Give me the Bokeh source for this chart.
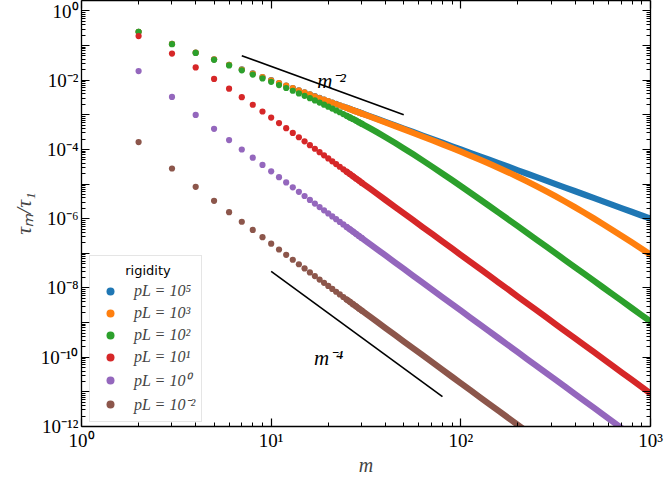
from bokeh.plotting import figure
from bokeh.models import (FixedTicker, CustomJSTickFormatter, LogAxis, Legend, LegendItem,
                          Label, Range1d)
from bokeh.embed import file_html
from bokeh.resources import INLINE

# ---------------- data ----------------
m_vals = [2, 3, 4, 5, 6, 7, 8, 9, 10, 11, 12, 13, 14, 15, 16, 17, 18, 19, 20, 21, 22, 23, 24, 25,
          26, 27, 28, 29, 30, 33, 36, 40, 45, 50, 56, 63, 71, 80, 90, 100, 112, 126, 141, 158, 178,
          200, 224, 251, 282, 316, 355, 398, 447, 501, 562, 631, 708, 794, 891, 1000]

tau_pl_1e5 = [0.25, 0.1111, 0.0625, 0.04, 0.02778, 0.02041, 0.01563, 0.01235, 0.01, 0.008264,
              0.006944, 0.005917, 0.005102, 0.004444, 0.003906, 0.00346, 0.003086, 0.00277, 0.0025,
              0.002268, 0.002066, 0.00189, 0.001736, 0.0016, 0.001479, 0.001372, 0.001276, 0.001189,
              0.001111, 9.18e-4, 7.72e-4, 6.25e-4, 4.94e-4, 4.0e-4, 3.19e-4, 2.52e-4, 1.98e-4,
              1.56e-4, 1.23e-4, 1.0e-4, 7.97e-5, 6.30e-5, 5.03e-5, 4.01e-5, 3.16e-5, 2.5e-5, 1.99e-5,
              1.59e-5, 1.26e-5, 1.0e-5, 7.93e-6, 6.31e-6, 5.0e-6, 3.98e-6, 3.17e-6, 2.51e-6, 1.99e-6,
              1.59e-6, 1.26e-6, 1.0e-6]

tau_pl_1e3 = [0.25, 0.1111, 0.06247, 0.03997, 0.02775, 0.02038, 0.0156, 0.01232, 0.009975, 0.00824,
              0.00692, 0.005894, 0.005079, 0.004421, 0.003884, 0.003438, 0.003064, 0.002748,
              0.002478, 0.002246, 0.002045, 0.00187, 0.001715, 0.001579, 0.001459, 0.001352,
              0.001255, 0.001169, 0.001091, 8.99e-4, 7.527e-4, 6.066e-4, 4.76e-4, 3.827e-4,
              3.021e-4, 2.358e-4, 1.828e-4, 1.413e-4, 1.092e-4, 8.638e-5, 6.68e-5, 5.083e-5,
              3.891e-5, 2.948e-5, 2.184e-5, 1.614e-5, 1.191e-5, 8.69e-6, 6.227e-6, 4.448e-6,
              3.121e-6, 2.181e-6, 1.5e-6, 1.03e-6, 6.993e-7, 4.7e-7, 3.144e-7, 2.095e-7, 1.387e-7,
              9.13e-8]

tau_pl_1e2 = [0.2487, 0.1099, 0.0613, 0.03882, 0.02662, 0.01928, 0.01452, 0.01127, 0.00895,
              0.007241, 0.005948, 0.004949, 0.004161, 0.003531, 0.00302, 0.002601, 0.002254,
              0.001964, 0.00172, 0.001513, 0.001336, 0.001185, 0.001054, 9.407e-4, 8.422e-4,
              7.561e-4, 6.806e-4, 6.142e-4, 5.556e-4, 4.166e-4, 3.179e-4, 2.271e-4, 1.541e-4,
              1.079e-4, 7.283e-5, 4.8e-5, 3.117e-5, 2.011e-5, 1.297e-5, 8.724e-6, 5.674e-6,
              3.616e-6, 2.345e-6, 1.51e-6, 9.505e-7, 6.035e-7, 3.876e-7, 2.483e-7, 1.572e-7,
              1.005e-7, 6.361e-8, 4.055e-8, 2.567e-8, 1.638e-8, 1.041e-8, 6.596e-9, 4.187e-9,
              2.663e-9, 1.69e-9, 1.072e-9]

tau_pl_1e1 = [0.1875, 0.05882, 0.02344, 0.01091, 0.005682, 0.003222, 0.001953, 0.001248, 8.333e-4,
              5.766e-4, 4.112e-4, 3.009e-4, 2.251e-4, 1.717e-4, 1.332e-4, 1.049e-4, 8.367e-5,
              6.756e-5, 5.515e-5, 4.545e-5, 3.779e-5, 3.168e-5, 2.676e-5, 2.275e-5, 1.946e-5,
              1.675e-5, 1.449e-5, 1.26e-5, 1.101e-5, 7.534e-6, 5.326e-6, 3.498e-6, 2.186e-6,
              1.435e-6, 9.128e-7, 5.702e-7, 3.536e-7, 2.195e-7, 1.37e-7, 8.993e-8, 5.716e-8,
              3.569e-8, 2.276e-8, 1.444e-8, 8.963e-9, 5.624e-9, 3.574e-9, 2.267e-9, 1.423e-9,
              9.025e-10, 5.666e-10, 3.587e-10, 2.254e-10, 1.429e-10, 9.022e-11, 5.677e-11,
              3.582e-11, 2.264e-11, 1.428e-11, 9.0e-12]

tau_pl_1e0 = [0.0183, 0.003285, 9.917e-4, 3.951e-4, 1.87e-4, 9.964e-5, 5.784e-5, 3.584e-5,
              2.337e-5, 1.588e-5, 1.117e-5, 8.08e-6, 5.99e-6, 4.532e-6, 3.494e-6, 2.736e-6,
              2.173e-6, 1.747e-6, 1.421e-6, 1.168e-6, 9.683e-7, 8.097e-7, 6.822e-7, 5.788e-7,
              4.945e-7, 4.25e-7, 3.672e-7, 3.187e-7, 2.782e-7, 1.897e-7, 1.338e-7, 8.762e-8,
              5.463e-8, 3.58e-8, 2.272e-8, 1.417e-8, 8.775e-9, 5.44e-9, 3.394e-9, 2.226e-9,
              1.413e-9, 8.818e-10, 5.621e-10, 3.564e-10, 2.212e-10, 1.387e-10, 8.811e-11,
              5.588e-11, 3.507e-11, 2.223e-11, 1.396e-11, 8.832e-12, 5.55e-12, 3.518e-12,
              2.221e-12, 1.397e-12, 8.814e-13, 5.57e-13, 3.513e-13, 2.214e-13]

tau_pl_1em2 = [1.634e-4, 2.818e-5, 8.343e-6, 3.287e-6, 1.544e-6, 8.184e-7, 4.731e-7, 2.922e-7,
               1.901e-7, 1.29e-7, 9.05e-8, 6.539e-8, 4.84e-8, 3.66e-8, 2.819e-8, 2.206e-8,
               1.751e-8, 1.407e-8, 1.144e-8, 9.392e-9, 7.785e-9, 6.506e-9, 5.482e-9, 4.649e-9,
               3.97e-9, 3.409e-9, 2.945e-9, 2.557e-9, 2.231e-9, 1.52e-9, 1.071e-9, 7.014e-10,
               4.368e-10, 2.862e-10, 1.816e-10, 1.132e-10, 7.008e-11, 4.342e-11, 2.71e-11,
               1.776e-11, 1.127e-11, 7.033e-12, 4.481e-12, 2.841e-12, 1.763e-12, 1.105e-12,
               7.02e-13, 4.45e-13, 2.793e-13, 1.772e-13, 1.112e-13, 7.04e-14, 4.42e-14, 2.8e-14,
               1.77e-14, 1.11e-14, 7.02e-15, 4.44e-15, 2.8e-15, 1.76e-15]

series_labels = ["pL = 10⁵", "pL = 10³", "pL = 10²", "pL = 10¹", "pL = 10⁰", "pL = 10⁻²"]
series_colors = ["#1f77b4", "#ff7f0e", "#2ca02c", "#d62728", "#9467bd", "#8c564b"]
series_values = [tau_pl_1e5, tau_pl_1e3, tau_pl_1e2, tau_pl_1e1, tau_pl_1e0, tau_pl_1em2]

# guide lines m^-2 and m^-4
guide2_m = [7, 50]
guide2_y = [0.051, 0.001]
guide4_m = [10, 80]
guide4_y = [3.0e-8, 7.32e-12]

x_ticks = [1, 10, 100, 1000]
y_ticks = [1e-12, 1e-11, 1e-10, 1e-9, 1e-8, 1e-7, 1e-6, 1e-5, 1e-4, 1e-3, 1e-2, 1e-1, 1]

# ---------------- figure ----------------
SERIF = "Liberation Serif"

p = figure(width=664, height=478, x_axis_type="log", y_axis_type="log",
           x_range=Range1d(1, 1000), y_range=Range1d(1e-12, 2.0),
           output_backend="svg", toolbar_location=None,
           min_border_left=81, min_border_right=14, min_border_top=0, min_border_bottom=46)
p.outline_line_color = None
p.xgrid.visible = False
p.ygrid.visible = False
p.background_fill_color = "white"

x_minor = [k * 10 ** e for e in range(0, 3) for k in range(2, 10)]
y_minor = [k * 10.0 ** e for e in range(-12, 0) for k in range(2, 10)]

sup_js = """
const sup = {"0":"\u2070","1":"\u00b9","2":"\u00b2","3":"\u00b3","4":"\u2074","5":"\u2075",
             "6":"\u2076","7":"\u2077","8":"\u2078","9":"\u2079","-":"\u207b"};
"""
x_fmt = CustomJSTickFormatter(code=sup_js + """
const e = Math.round(Math.log10(tick));
return "10" + String(e).split("").map(c => sup[c]).join("");
""")
y_fmt = CustomJSTickFormatter(code=sup_js + """
const e = Math.round(Math.log10(tick));
if (e % 2 !== 0) { return ""; }
return "10" + String(e).split("").map(c => sup[c]).join("");
""")
blank_fmt = CustomJSTickFormatter(code="return '';")


def style_axis(ax, labels=True):
    ax.axis_line_color = "black"
    ax.axis_line_width = 1.3
    ax.major_tick_in = 8
    ax.major_tick_out = 0
    ax.minor_tick_in = 4
    ax.minor_tick_out = 0
    ax.major_tick_line_width = 1.2
    ax.minor_tick_line_width = 1.0
    ax.major_tick_line_color = "black"
    ax.minor_tick_line_color = "black"
    if labels:
        ax.major_label_text_font = SERIF
        ax.major_label_text_font_size = "19px"
        ax.major_label_text_color = "black"
        ax.major_label_standoff = 3
    else:
        ax.major_label_text_font_size = "0px"
        ax.major_label_standoff = 0
        ax.axis_label_standoff = 0


xa = p.xaxis[0]
xa.ticker = FixedTicker(ticks=x_ticks, minor_ticks=x_minor)
xa.formatter = x_fmt
style_axis(xa)
xa.axis_label = "m"
xa.axis_label_text_font = SERIF
xa.axis_label_text_font_style = "italic"
xa.axis_label_text_font_size = "20px"
xa.axis_label_standoff = 0

ya = p.yaxis[0]
ya.ticker = FixedTicker(ticks=y_ticks, minor_ticks=y_minor)
ya.formatter = y_fmt
style_axis(ya)
ya.axis_label = "τₘ/τ₁"
ya.axis_label_text_font = SERIF
ya.axis_label_text_font_style = "italic"
ya.axis_label_text_font_size = "22px"
ya.axis_label_standoff = 2

top_ax = LogAxis(ticker=FixedTicker(ticks=x_ticks, minor_ticks=x_minor), formatter=blank_fmt)
style_axis(top_ax, labels=False)
p.add_layout(top_ax, "above")
right_ax = LogAxis(ticker=FixedTicker(ticks=y_ticks, minor_ticks=y_minor), formatter=blank_fmt)
style_axis(right_ax, labels=False)
p.add_layout(right_ax, "right")

# ---------------- series ----------------
n_dots = 29      # discrete markers for m = 2..30
line_from = 23   # merged band from m = 25 onwards
legend_items = []
for lab, col, vals in zip(series_labels, series_colors, series_values):
    p.line(m_vals[line_from:], vals[line_from:], line_color=col, line_width=6.2,
           line_cap="round", line_join="round")
    r = p.scatter(m_vals[:n_dots], vals[:n_dots], size=6.2, fill_color=col, line_color=None)
    legend_items.append(LegendItem(label=lab, renderers=[r]))

# guide lines
p.line(guide2_m, guide2_y, line_color="black", line_width=1.6)
p.line(guide4_m, guide4_y, line_color="black", line_width=1.6)
p.add_layout(Label(x=17.5, y=0.0096, text="m⁻²", text_font=SERIF, text_font_style="italic",
                   text_font_size="21px", text_baseline="alphabetic", text_color="black"))
p.add_layout(Label(x=16.8, y=9.5e-11, text="m⁻⁴", text_font=SERIF, text_font_style="italic",
                   text_font_size="21px", text_baseline="alphabetic", text_color="black"))

legend = Legend(items=legend_items, title=" ", location=(8, 4),
                title_text_font="DejaVu Sans", title_text_font_style="normal",
                title_text_font_size="13px", title_standoff=4,
                label_text_font=SERIF, label_text_font_style="italic",
                label_text_font_size="16px", glyph_width=28, glyph_height=20,
                label_height=20, label_standoff=10, spacing=2, padding=6, margin=0,
                border_line_color="#cccccc", border_line_width=1,
                background_fill_color=None)
p.add_layout(legend, "center")
# centred legend title, as in the reference
p.add_layout(Label(x=2.24, y=3.3e-8, text="rigidity", text_font="DejaVu Sans",
                   text_font_size="13px", text_align="center", text_baseline="middle",
                   text_color="black", level="overlay"))

open("out.html", "w").write(file_html(p, INLINE))
